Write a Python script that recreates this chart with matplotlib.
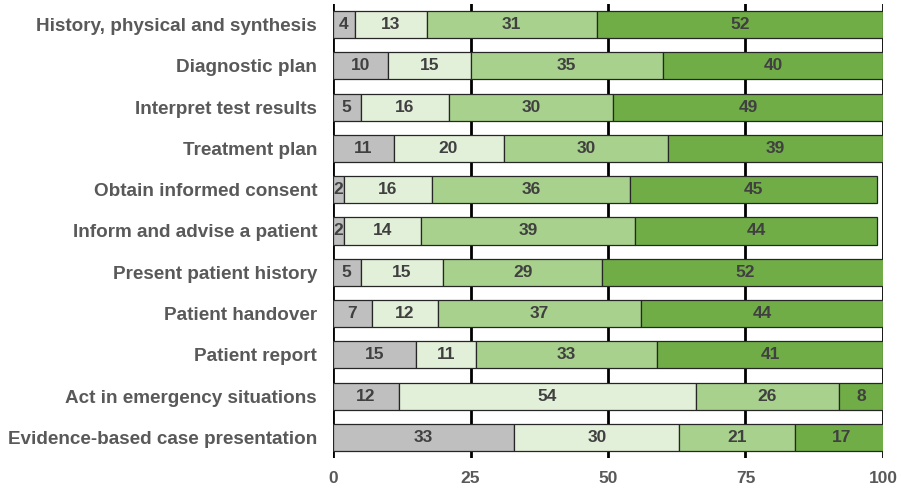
import matplotlib.pyplot as plt
import numpy as np

plt.rcParams["font.family"] = ["Liberation Sans", "DejaVu Sans"]

categories = [
    "History, physical and synthesis",
    "Diagnostic plan",
    "Interpret test results",
    "Treatment plan",
    "Obtain informed consent",
    "Inform and advise a patient",
    "Present patient history",
    "Patient handover",
    "Patient report",
    "Act in emergency situations",
    "Evidence-based case presentation",
]
seg1 = [4, 10, 5, 11, 2, 2, 5, 7, 15, 12, 33]
seg2 = [13, 15, 16, 20, 16, 14, 15, 12, 11, 54, 30]
seg3 = [31, 35, 30, 30, 36, 39, 29, 37, 33, 26, 21]
seg4 = [52, 40, 49, 39, 45, 44, 52, 44, 41, 8, 17]
xticks = [0, 25, 50, 75, 100]

colors = ["#BFBFBF", "#E2F0D9", "#A9D18E", "#70AD47"]

fig = plt.figure(figsize=(9.01, 4.92), dpi=100)
ax = fig.add_axes([0.3696, 0.069, 0.6104, 0.923])

y = np.arange(len(categories))
left = np.zeros(len(categories))
for vals, col in zip([seg1, seg2, seg3, seg4], colors):
    vals = np.array(vals, dtype=float)
    ax.barh(y, vals, left=left, height=0.66, color=col,
            edgecolor="#262626", linewidth=0.9, zorder=3)
    for yi, l, v in zip(y, left, vals):
        ax.text(l + v / 2, yi, f"{int(v)}", ha="center", va="center",
                fontsize=12.5, fontweight="bold", color="#404040", zorder=4)
    left += vals

ax.set_ylim(len(categories) - 0.5, -0.5)
ax.set_xlim(0, 100)
ax.set_yticks(y)
ax.set_yticklabels(categories, fontsize=13.6, fontweight="bold", color="#595959")
ax.set_xticks(xticks)
ax.set_xticklabels([str(t) for t in xticks], fontsize=12.5, fontweight="bold",
                   color="#595959")
ax.tick_params(axis="y", length=0, pad=11.5)
ax.tick_params(axis="x", length=0, pad=9)

for s in ax.spines.values():
    s.set_visible(False)
for t in xticks:
    ax.axvline(t, color="black", linewidth=2, zorder=1)

fig.savefig("out.png", dpi=100)
